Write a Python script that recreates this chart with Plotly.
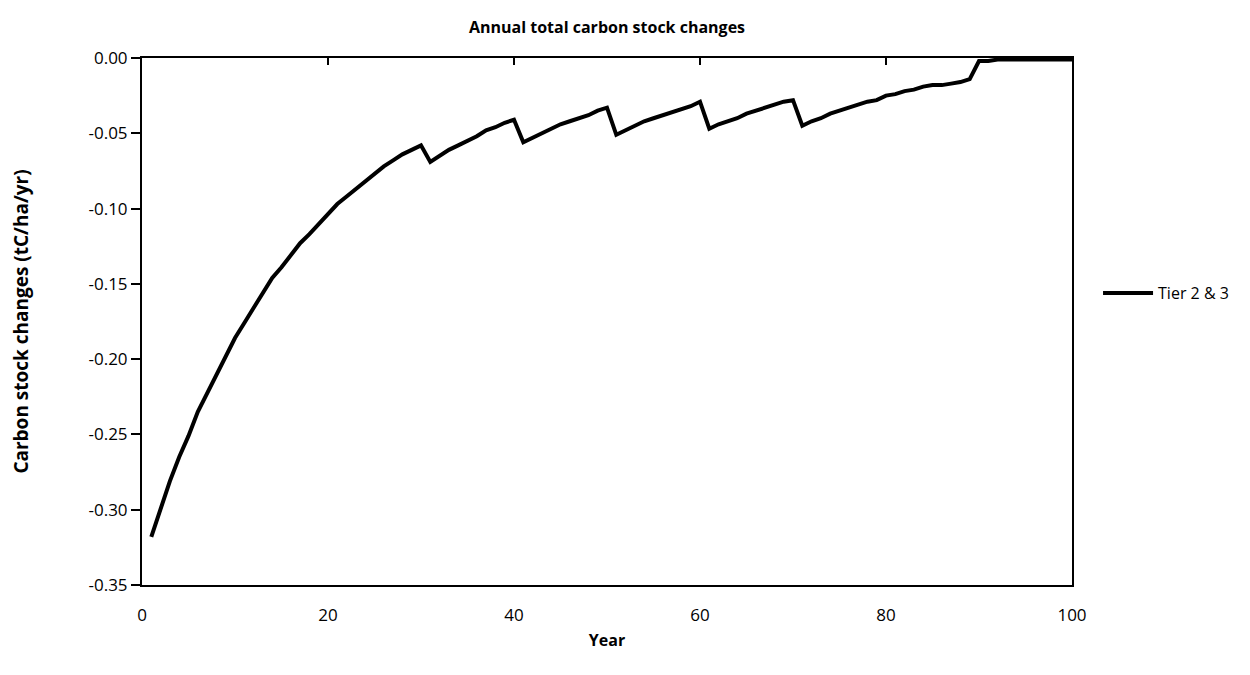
import plotly.graph_objects as go

years = list(range(1, 101))
stock_change = [
    -0.318, -0.299, -0.281, -0.265, -0.251, -0.235, -0.223, -0.210, -0.198, -0.186,
    -0.176, -0.166, -0.155, -0.146, -0.139, -0.131, -0.123, -0.117, -0.110, -0.104,
    -0.097, -0.092, -0.087, -0.082, -0.077, -0.072, -0.068, -0.064, -0.061, -0.058,
    -0.069, -0.065, -0.061, -0.058, -0.055, -0.052, -0.048, -0.046, -0.043, -0.041,
    -0.056, -0.053, -0.050, -0.047, -0.044, -0.042, -0.040, -0.038, -0.035, -0.033,
    -0.051, -0.048, -0.045, -0.042, -0.040, -0.038, -0.036, -0.034, -0.032, -0.029,
    -0.047, -0.044, -0.042, -0.040, -0.037, -0.035, -0.033, -0.031, -0.029, -0.028,
    -0.045, -0.042, -0.040, -0.037, -0.035, -0.033, -0.031, -0.029, -0.028, -0.025,
    -0.024, -0.022, -0.021, -0.019, -0.018, -0.018, -0.017, -0.016, -0.014, -0.002,
    -0.002, -0.001, -0.001, -0.001, -0.001, -0.001, -0.001, -0.001, -0.001, -0.001,
]
series_name = "Tier 2 & 3"

x_tick_vals = [0, 20, 40, 60, 80, 100]
y_tick_vals = [0.00, -0.05, -0.10, -0.15, -0.20, -0.25, -0.30, -0.35]
y_tick_text = ["0.00", "-0.05", "-0.10", "-0.15", "-0.20", "-0.25", "-0.30", "-0.35"]

FONT = "Open Sans"

fig = go.Figure()
fig.add_trace(go.Scatter(
    x=years, y=stock_change, mode="lines", name=series_name,
    line=dict(color="black", width=4),
))
# invisible copy to anchor the top (mirror) x axis with inward ticks
fig.add_trace(go.Scatter(
    x=years, y=stock_change, mode="lines", xaxis="x2", showlegend=False,
    hoverinfo="skip", line=dict(color="rgba(0,0,0,0)", width=0),
))

fig.update_layout(
    width=1250, height=675,
    paper_bgcolor="white", plot_bgcolor="white",
    margin=dict(l=134, r=186, t=50, b=98),
    font=dict(family=FONT, size=17, color="black"),
    title=dict(
        text="<b>Annual total carbon stock changes</b>",
        x=0.5, xanchor="center", xref="paper",
        y=1 - 19 / 675, yanchor="middle",
        font=dict(family=FONT, size=16, color="black"),
    ),
    xaxis=dict(
        range=[0, 100], tickvals=x_tick_vals, ticks="",
        showline=True, linecolor="black", linewidth=2, mirror=True,
        showgrid=False, zeroline=False,
        ticklabelstandoff=14,
        tickfont=dict(size=17),
        title=dict(text="<b>Year</b>", standoff=9,
                   font=dict(family=FONT, size=16)),
    ),
    xaxis2=dict(
        range=[0, 100], tickvals=x_tick_vals, overlaying="x", side="top",
        anchor="y", ticks="inside", ticklen=7, tickwidth=1.5, tickcolor="black",
        showticklabels=False, showline=False, showgrid=False, zeroline=False,
    ),
    yaxis=dict(
        range=[-0.35, 0], tickvals=y_tick_vals, ticktext=y_tick_text,
        ticks="outside", ticklen=9, tickwidth=1.5, tickcolor="black",
        showline=True, linecolor="black", linewidth=2, mirror=True,
        showgrid=False, zeroline=False, automargin=False,
        tickfont=dict(size=17),
        title=dict(text="<b>Carbon stock changes (tC/ha/yr)</b>", standoff=56,
                   font=dict(family=FONT, size=19)),
    ),
    legend=dict(
        x=1.028, xanchor="left", y=0.554, yanchor="middle",
        font=dict(family=FONT, size=16), bgcolor="rgba(0,0,0,0)",
        itemwidth=50,
    ),
    showlegend=True,
)

fig.write_html("out.html")
